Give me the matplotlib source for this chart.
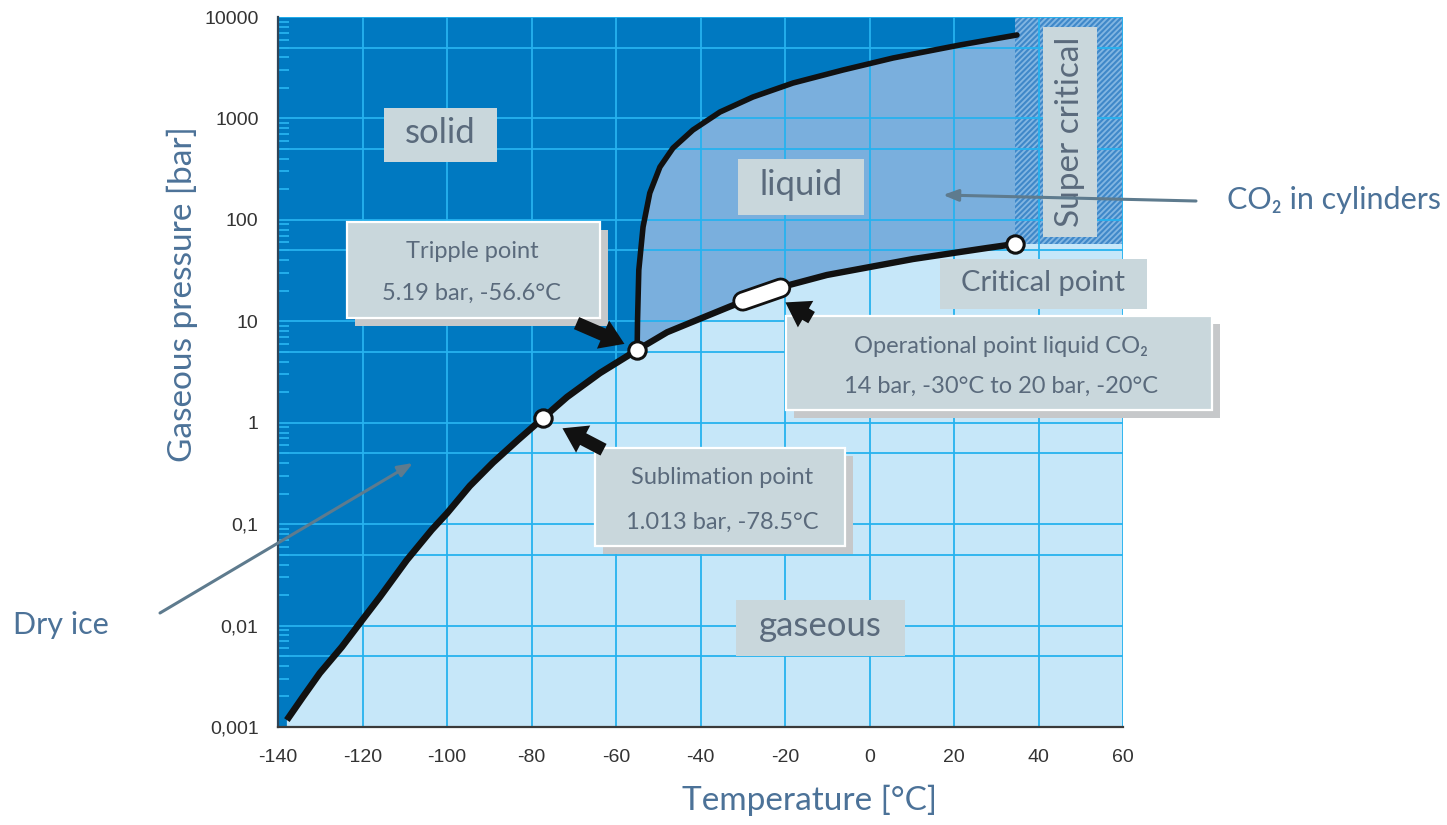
import matplotlib
matplotlib.use("Agg")
import matplotlib.pyplot as plt
from matplotlib.patches import Rectangle, FancyArrowPatch
import matplotlib.patheffects as pe
from matplotlib.ticker import FixedLocator, LogLocator, NullFormatter

plt.rcParams["axes.unicode_minus"] = False
plt.rcParams["hatch.linewidth"] = 1.5

# sublimation curve (solid / gas)
sub_T = [-137.9, -134.1, -130.1, -124.9, -120.6, -115.9, -109.5, -103.6, -100.0,
         -94.6, -89.1, -83.2, -77.3, -71.6, -63.8, -55.0]
sub_P = [0.00117, 0.00198, 0.0034, 0.00615, 0.0106, 0.0191, 0.0443, 0.088, 0.128,
         0.238, 0.405, 0.676, 1.11, 1.79, 3.09, 5.21]

# vaporization curve (liquid / gas)
vap_T = [-55.0, -47.9, -40.1, -33.0, -25.9, -19.5, -10.1, 0.1, 10.3, 19.8, 27.8, 34.4]
vap_P = [5.21, 7.8, 10.6, 14.0, 18.3, 22.5, 28.6, 34.3, 41.1, 47.1, 52.8, 57.8]

# melting curve (solid / liquid)
melt_T = [-55.0, -54.9, -54.6, -53.6, -52.0, -49.6, -46.5, -41.8, -35.4, -27.6,
          -18.1, -6.3, 5.6, 21.4, 34.9]
melt_P = [5.21, 10.3, 32.1, 85, 184, 332, 511, 769, 1156, 1626,
          2234, 3000, 3945, 5297, 6650]

# marked points: sublimation, triple, critical
point_T = [-77.3, -55.0, 34.4]
point_P = [1.11, 5.21, 57.8]

# operational range of liquid CO2
oper_T = [-30.0, -21.0]
oper_P = [15.8, 21.3]

x_ticks = [-140, -120, -100, -80, -60, -40, -20, 0, 20, 40, 60]
y_ticks = [0.001, 0.01, 0.1, 1, 10, 100, 1000, 10000]
y_labels = ["0,001", "0,01", "0,1", "1", "10", "100", "1000", "10000"]

c_solid = "#0079C1"
c_liquid = "#7AAFDD"
c_gas = "#C6E7F9"
c_grid = "#26B2EF"
c_box = "#C9D7DC"
c_boxtext = "#5A6A7C"
c_label = "#4C7298"
c_note = "#5E7B8E"
txt_font = ["Lato", "DejaVu Sans"]

fig = plt.figure(figsize=(14.47, 8.25), dpi=100)
L, R, B, T = 278, 1123, 727, 17
ax = fig.add_axes([L / 1447, (825 - B) / 825, (R - L) / 1447, (B - T) / 825])


def ref(x, y):
    # reference pixel -> axes fraction
    return (x - L) / (R - L), (B - y) / (B - T)


ax.set_yscale("log")
ax.set_xlim(-140, 60)
ax.set_ylim(0.001, 10000)
ax.set_facecolor(c_solid)

# regions
gas_x = [sub_T[0]] + sub_T + vap_T[1:] + [60, 60]
gas_y = [0.001] + sub_P + vap_P[1:] + [vap_P[-1], 0.001]
ax.fill(gas_x, gas_y, color=c_gas, lw=0, zorder=1)
ax.fill(melt_T + vap_T[::-1], melt_P + vap_P[::-1], color=c_liquid, lw=0, zorder=1)
ax.add_patch(Rectangle((vap_T[-1], vap_P[-1]), 60 - vap_T[-1], 10000 - vap_P[-1],
                       facecolor="#82B6E2", edgecolor="#3F88C9", hatch="//////",
                       lw=0, zorder=1))

# grid
ax.xaxis.set_major_locator(FixedLocator(x_ticks))
ax.yaxis.set_major_locator(FixedLocator(y_ticks))
ax.set_yticklabels(y_labels)
ax.yaxis.set_minor_locator(LogLocator(base=10, subs=range(2, 10)))
ax.yaxis.set_minor_formatter(NullFormatter())
ax.set_axisbelow(False)
ax.grid(True, which="major", color=c_grid, lw=1.3)
for d in y_ticks[:-1]:
    ax.axhline(5 * d, color=c_grid, lw=1.3, zorder=2.5)

ax.tick_params(axis="y", which="minor", direction="in", length=8, width=1.3,
               color=c_grid, left=True)
ax.tick_params(axis="y", which="major", length=0, pad=14)
ax.tick_params(axis="x", which="major", length=0, pad=16)
for lab in ax.get_xticklabels() + ax.get_yticklabels():
    lab.set_fontfamily("Liberation Sans")
    lab.set_fontsize(14)
    lab.set_color("#333333")
for s in ["top", "right"]:
    ax.spines[s].set_visible(False)
ax.spines["left"].set_color("#2F4558")
ax.spines["left"].set_linewidth(1.6)
ax.spines["bottom"].set_color("#3A3A3A")
ax.spines["bottom"].set_linewidth(1.6)
ax.spines["left"].set_zorder(6)
ax.spines["bottom"].set_zorder(6)

# phase curves
ax.plot(sub_T, sub_P, color="#111111", lw=4.8, solid_capstyle="butt",
        solid_joinstyle="round", zorder=4)
ax.plot(vap_T, vap_P, color="#111111", lw=4.6, solid_capstyle="round",
        solid_joinstyle="round", zorder=4)
ax.plot(melt_T, melt_P, color="#111111", lw=4.0, solid_capstyle="round",
        solid_joinstyle="round", zorder=4)
ax.plot(oper_T, oper_P, color="white", lw=11, solid_capstyle="round", zorder=5,
        path_effects=[pe.Stroke(linewidth=15, foreground="#111111"), pe.Normal()])
ax.plot(point_T, point_P, "o", ms=12.5, mfc="white", mec="#111111", mew=2.2, zorder=6)


def box(x0, y0, x1, y1, shadow=False):
    w, h = (x1 - x0) / (R - L), (y1 - y0) / (B - T)
    if shadow:
        ax.add_patch(Rectangle(ref(x0 + 8, y1 + 8), w, h, transform=ax.transAxes,
                               facecolor="#C6C8CA", lw=0, zorder=7, clip_on=False))
        ax.add_patch(Rectangle(ref(x0, y1), w, h, transform=ax.transAxes,
                               facecolor=c_box, edgecolor="white", lw=1.6,
                               zorder=8, clip_on=False))
    else:
        ax.add_patch(Rectangle(ref(x0, y1), w, h, transform=ax.transAxes,
                               facecolor=c_box, lw=0, zorder=8, clip_on=False))


def text(x, y, s, size, color=c_boxtext, **kw):
    ax.text(*ref(x, y), s, transform=ax.transAxes, fontsize=size, color=color,
            family=txt_font, ha="center", va="center", zorder=9, clip_on=False, **kw)


box(384, 108, 497, 162)
text(440, 133, "solid", 25)
box(738, 159, 864, 215)
text(801, 185, "liquid", 25)
box(736, 600, 905, 656)
text(820, 626, "gaseous", 25)
box(1043, 27, 1097, 237)
text(1070, 132, "Super critical", 24, rotation=90)
box(940, 259, 1147, 309)
text(1043, 283, "Critical point", 21)

box(347, 222, 600, 318, shadow=True)
text(472, 252, "Tripple point", 17)
text(472, 293, "5.19 bar, -56.6°C", 17)
box(786, 316, 1212, 410, shadow=True)
text(1001, 346, "Operational point liquid CO₂", 17)
text(1001, 386, "14 bar, -30°C to 20 bar, -20°C", 17)
box(595, 448, 845, 546, shadow=True)
text(722, 478, "Sublimation point", 17)
text(722, 522, "1.013 bar, -78.5°C", 17)

# black pointer arrows
for (x0, y0), (x1, y1) in [((574, 322), (627, 345)),
                           ((814, 319), (783, 301)),
                           ((606, 451), (560, 427))]:
    ax.add_patch(FancyArrowPatch(ref(x0, y0), ref(x1, y1), transform=ax.transAxes,
                                 arrowstyle="simple,head_width=1.05,head_length=0.8,tail_width=0.45",
                                 mutation_scale=21, color="#111111", lw=0,
                                 zorder=9, clip_on=False))

# thin notes
for (x0, y0), (x1, y1) in [((160, 613), (413, 463)), ((1196, 201), (943, 195))]:
    ax.annotate("", xy=ref(x1, y1), xytext=ref(x0, y0), xycoords="axes fraction",
                textcoords="axes fraction", zorder=9, annotation_clip=False,
                arrowprops=dict(arrowstyle="-|>,head_length=0.9,head_width=0.35",
                                color=c_note, lw=2.2, shrinkA=0, shrinkB=0))
text(61, 625, "Dry ice", 22, color=c_label)
text(1334, 200, "CO₂ in cylinders", 22, color=c_label)

# axis titles
text(182, 294, "Gaseous pressure [bar]", 24, color=c_label, rotation=90)
text(810, 800, "Temperature [°C]", 24, color=c_label)

fig.savefig("out.png", dpi=100)
